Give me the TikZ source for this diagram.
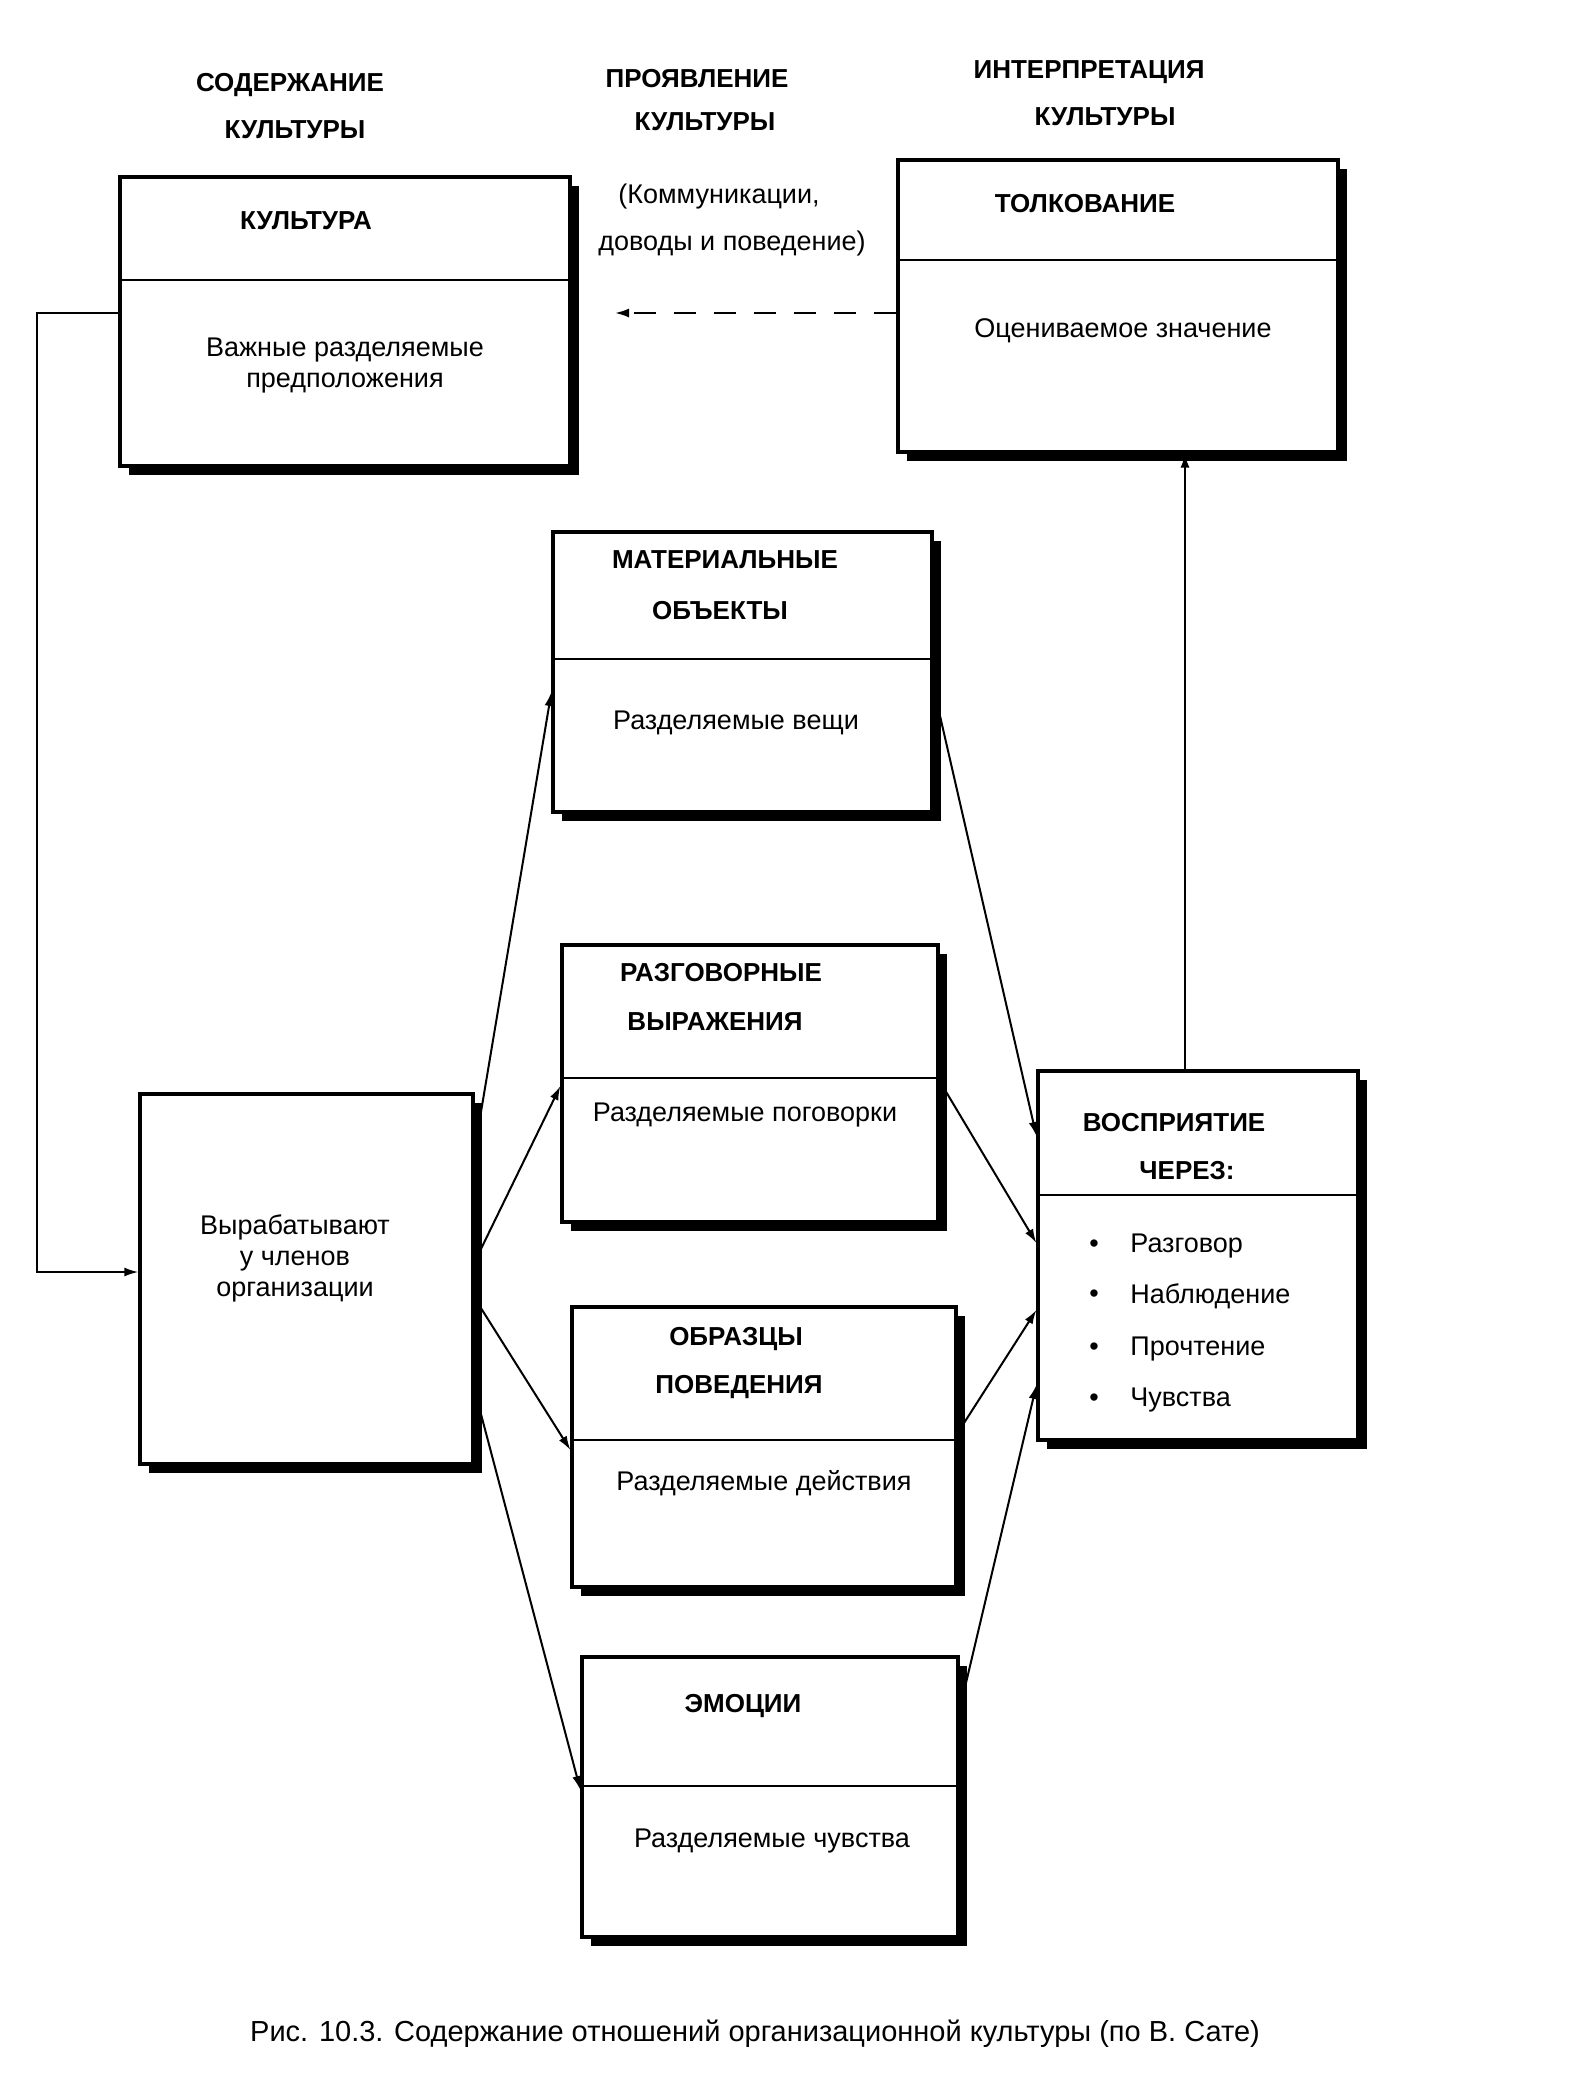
\documentclass[tikz,border=0pt]{standalone}
\usepackage{fontspec}
\setmainfont{Liberation Sans}
\usetikzlibrary{arrows.meta,shadows,fit}
\begin{document}
\begin{tikzpicture}[x=0.5pt,y=-0.5pt,
 box/.style={draw=black, line width=1.6pt, fill=white, inner sep=0pt,
   drop shadow={shadow xshift=4.5pt, shadow yshift=-4.5pt, fill=black, opacity=1}},
 sep/.style={line width=1.4pt},
 hd/.style={font=\bfseries\fontsize{13}{15}\selectfont, inner sep=0pt},
 bd/.style={font=\fontsize{13.5}{16}\selectfont, inner sep=0pt},
 con/.style={line width=1pt, -{Latex[length=7pt,width=4.5pt]}},
]
\useasboundingbox[fill=white] (0,0) rectangle (1575,2087);

% column headings
\node[hd] (h1a) at (290,85) {СОДЕРЖАНИЕ};
\node[hd] (h1b) at (295,130) {КУЛЬТУРЫ};
\node[hd] (h2a) at (697,79) {ПРОЯВЛЕНИЕ};
\node[hd] (h2b) at (705,122) {КУЛЬТУРЫ};
\node[hd] (h3a) at (1089,72) {ИНТЕРПРЕТАЦИЯ};
\node[hd] (h3b) at (1105,117) {КУЛЬТУРЫ};
\node[bd] (h2c) at (719,197) {(Коммуникации,};
\node[bd] (h2d) at (732,244) {доводы и поведение)};

% boxes
\node[box, fit={(120,177)(570,466)}] (kult) {};
\draw[sep] (kult.west |- 0,280) -- (kult.east |- 0,280);
\node[hd] (kultT) at (306,221) {КУЛЬТУРА};
\node[bd, align=center, font=\fontsize{13.5}{15.5}\selectfont] (kultB) at (345,366) {Важные разделяемые\\предположения};

\node[box, fit={(898,160)(1338,452)}] (tolk) {};
\draw[sep] (tolk.west |- 0,260) -- (tolk.east |- 0,260);
\node[hd] (tolkT) at (1085,204) {ТОЛКОВАНИЕ};
\node[bd] (tolkB) at (1123,331) {Оцениваемое значение};

\node[box, fit={(553,532)(932,812)}] (mat) {};
\draw[sep] (mat.west |- 0,659) -- (mat.east |- 0,659);
\node[hd] (matT1) at (725,560) {МАТЕРИАЛЬНЫЕ};
\node[hd] (matT2) at (720,611) {ОБЪЕКТЫ};
\node[bd] (matB) at (736,723) {Разделяемые вещи};

\node[box, fit={(562,945)(938,1222)}] (razg) {};
\draw[sep] (razg.west |- 0,1078) -- (razg.east |- 0,1078);
\node[hd] (razgT1) at (721,973) {РАЗГОВОРНЫЕ};
\node[hd] (razgT2) at (715,1022) {ВЫРАЖЕНИЯ};
\node[bd] (razgB) at (745,1115) {Разделяемые поговорки};

\node[box, fit={(572,1307)(956,1587)}] (obr) {};
\draw[sep] (obr.west |- 0,1440) -- (obr.east |- 0,1440);
\node[hd] (obrT1) at (736,1339) {ОБРАЗЦЫ};
\node[hd] (obrT2) at (739,1387) {ПОВЕДЕНИЯ};
\node[bd] (obrB) at (764,1483) {Разделяемые действия};

\node[box, fit={(582,1657)(958,1937)}] (emo) {};
\draw[sep] (emo.west |- 0,1786) -- (emo.east |- 0,1786);
\node[hd] (emoT) at (743,1706) {ЭМОЦИИ};
\node[bd] (emoB) at (772,1841) {Разделяемые чувства};

\node[box, fit={(140,1094)(473,1464)}] (vyr) {};
\node[bd, align=center, font=\fontsize{13.5}{15.5}\selectfont] (vyrT) at (295,1258) {Вырабатывают\\у членов\\организации};

\node[box, fit={(1038,1071)(1358,1440)}] (vosp) {};
\draw[sep] (vosp.west |- 0,1195) -- (vosp.east |- 0,1195);
\node[hd] (vospT1) at (1174,1123) {ВОСПРИЯТИЕ};
\node[hd] (vospT2) at (1187,1171) {ЧЕРЕЗ:};
\foreach \yy/\tt [count=\i] in {1246/Разговор,1296/Наблюдение,1349/Прочтение,1400/Чувства}{
  \node[bd] (vb\i) at (1094,\yy) {•};
  \node[bd, anchor=west] (vi\i) at (1130,\yy) {\tt};
}

% caption
\node[font=\fontsize{14.5}{17}\selectfont, inner sep=0pt] (cap) at (755,2034)
  {Рис. 10.3. Содержание отношений организационной культуры (по В. Сате)};

% connectors
\coordinate (dashend) at (615,313);
\draw[con, dash pattern=on 11pt off 9pt] (tolk.west |- 0,313) -- (dashend);
\coordinate (fb1) at (37,313);
\coordinate (fb2) at (37,1272);
\draw[con] (kult.west |- 0,313) -- (fb1) -- (fb2) -- (vyr.west |- 0,1272);
\draw[con] (vosp.north -| 1185,0) -- (tolk.south -| 1185,0);

\draw[con] (vyr.east |- 0,1150) -- (mat.west |- 0,692);
\draw[con] (vyr.east |- 0,1262) -- (razg.west |- 0,1086);
\draw[con] (vyr.east |- 0,1298) -- (obr.west |- 0,1450);
\draw[con] (vyr.east |- 0,1390) -- (emo.west |- 0,1790);

\draw[con] (mat.east |- 0,688) -- (vosp.west |- 0,1136);
\draw[con] (razg.east |- 0,1081) -- (vosp.west |- 0,1243);
\draw[con] (obr.east |- 0,1433) -- (vosp.west |- 0,1310);
\draw[con] (emo.east |- 0,1710) -- (vosp.west |- 0,1385);
\end{tikzpicture}
\end{document}
